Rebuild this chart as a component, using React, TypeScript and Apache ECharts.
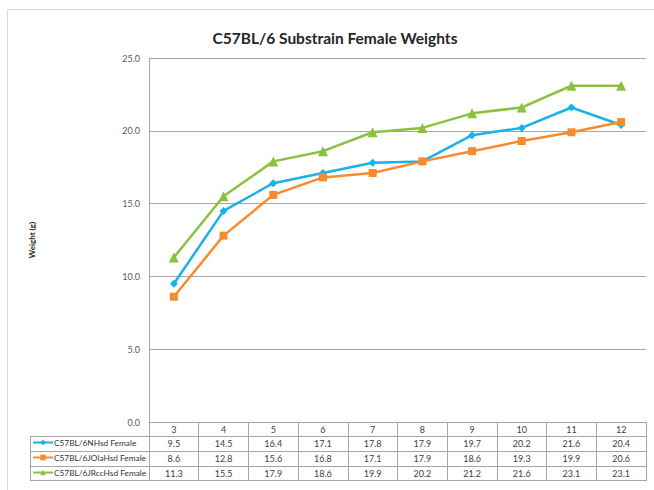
import React, { useEffect, useRef } from "react";
import * as echarts from "echarts";

const weeks = ["3", "4", "5", "6", "7", "8", "9", "10", "11", "12"];
const seriesNames = ["C57BL/6NHsd Female", "C57BL/6JOlaHsd Female", "C57BL/6JRccHsd Female"];
const nhsd = [9.5, 14.5, 16.4, 17.1, 17.8, 17.9, 19.7, 20.2, 21.6, 20.4];
const jolahsd = [8.6, 12.8, 15.6, 16.8, 17.1, 17.9, 18.6, 19.3, 19.9, 20.6];
const jrcchsd = [11.3, 15.5, 17.9, 18.6, 19.9, 20.2, 21.2, 21.6, 23.1, 23.1];
const yTicks = [0, 5, 10, 15, 20, 25];

const FONT = "Lato, 'Liberation Sans', sans-serif";
const GRID = { left: 149, top: 58, right: 8, bottom: 68 };
const AXIS_Y = 422;
const ROW_LINES = [436, 451, 466, 480];
const TABLE_LEFT = 30;
const TABLE_RIGHT = 647;
const GRAY = "#a6a6a6";

export default function App() {
  const ref = useRef<HTMLDivElement>(null);
  useEffect(() => {
    if (!ref.current) return;
    const chart = echarts.init(ref.current, null, { renderer: "svg" });
    const allSeries = [nhsd, jolahsd, jrcchsd];
    const colors = ["#1ab0e8", "#f68b2f", "#8cc13f"];
    const symbols = ["diamond", "rect", "triangle"];
    const symbolSizes = [8, 8, 10];
    const rowCenters = [443.5, 458.5, 473];

    const tableAxes = allSeries.map((vals, i) => ({
      type: "category",
      data: weeks,
      position: "bottom",
      gridIndex: 0,
      axisLine: { show: false },
      axisTick: { show: false },
      axisLabel: {
        interval: 0,
        margin: rowCenters[i] - AXIS_Y,
        verticalAlign: "middle",
        fontSize: 9,
        color: "#404040",
        fontFamily: FONT,
        formatter: (_v: string, idx: number) => vals[idx].toFixed(1),
      },
    }));

    const graphic: any[] = [
      {
        type: "rect",
        shape: { x: 7.5, y: 9.5, width: 700, height: 600 },
        style: { fill: "none", stroke: "#d9d9d9", lineWidth: 1 },
        silent: true,
      },
      ...ROW_LINES.map((y) => ({
        type: "line",
        shape: { x1: TABLE_LEFT, y1: y + 0.5, x2: TABLE_RIGHT, y2: y + 0.5 },
        style: { stroke: GRAY, lineWidth: 1 },
        silent: true,
      })),
      {
        type: "line",
        shape: { x1: TABLE_LEFT + 0.5, y1: ROW_LINES[0], x2: TABLE_LEFT + 0.5, y2: ROW_LINES[3] + 1 },
        style: { stroke: GRAY, lineWidth: 1 },
        silent: true,
      },
    ];

    chart.setOption({
      animation: false,
      backgroundColor: "#ffffff",
      title: {
        text: "C57BL/6 Substrain Female Weights",
        left: 330,
        top: 25,
        textAlign: "center",
        textStyle: { fontSize: 15.5, fontWeight: "bold", color: "#262626", fontFamily: FONT },
      },
      legend: {
        orient: "vertical",
        left: 32,
        top: 437,
        itemWidth: 20,
        itemHeight: 7,
        itemGap: 4,
        data: seriesNames,
        textStyle: { fontSize: 8.3, color: "#333333", fontFamily: FONT, lineHeight: 11, padding: [0, 0, 0, -4] },
        padding: 0,
      },
      grid: GRID,
      xAxis: [
        {
          type: "category",
          data: weeks,
          position: "bottom",
          boundaryGap: true,
          axisLine: { show: true, lineStyle: { color: GRAY, width: 1 } },
          axisTick: { show: true, interval: 0, length: ROW_LINES[3] - AXIS_Y + 1, lineStyle: { color: GRAY } },
          axisLabel: {
            interval: 0,
            margin: 7,
            verticalAlign: "middle",
            fontSize: 9,
            color: "#404040",
            fontFamily: FONT,
          },
        },
        ...tableAxes,
      ],
      yAxis: {
        type: "value",
        min: 0,
        max: 25,
        interval: 5,
        name: "Weight (g)",
        nameLocation: "middle",
        nameGap: 113,
        nameTextStyle: { fontSize: 8, fontWeight: "bold", color: "#262626", fontFamily: FONT },
        axisLine: { show: true, lineStyle: { color: GRAY, width: 1 } },
        axisTick: { show: false },
        splitLine: { show: true, lineStyle: { color: GRAY, width: 1 } },
        axisLabel: {
          margin: 9,
          fontSize: 9,
          color: "#595959",
          fontFamily: FONT,
          formatter: (v: number) => (yTicks.includes(v) ? v.toFixed(1) : ""),
        },
      },
      series: allSeries.map((vals, i) => ({
        name: seriesNames[i],
        type: "line",
        data: vals,
        xAxisIndex: 0,
        symbol: symbols[i],
        symbolSize: symbolSizes[i],
        lineStyle: { color: colors[i], width: 2.5 },
        itemStyle: { color: colors[i] },
        z: 2 + i,
      })),
      graphic,
    });
    return () => chart.dispose();
  }, []);
  return (
    <div
      ref={ref}
      style={{ position: "absolute", left: 0, top: 0, width: 654, height: 490 }}
    />
  );
}
